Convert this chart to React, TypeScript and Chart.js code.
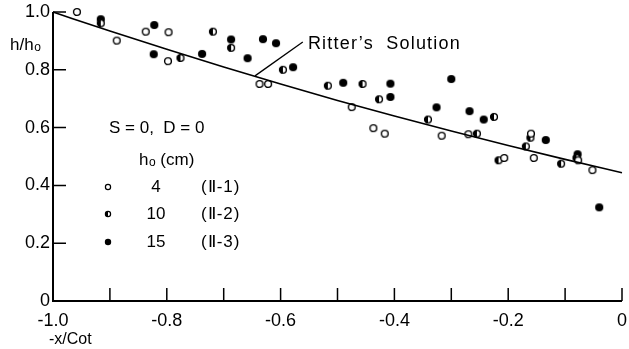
import React, { useEffect, useRef } from "react";
import { Chart, registerables } from "chart.js";
Chart.register(...registerables);

const FONT = "'Liberation Sans', Arial, sans-serif";

// Ritter's solution curve
const ritterX = [-1.0, -0.9, -0.8, -0.7, -0.6, -0.5, -0.4, -0.3, -0.2, -0.1, 0];
const ritterY = [1.0, 0.934, 0.871, 0.81, 0.751, 0.694, 0.64, 0.588, 0.538, 0.49, 0.444];

// h0 = 4 cm (II-1), open circles
const openX = [-0.958, -0.888, -0.837, -0.797, -0.798, -0.637, -0.622, -0.475, -0.437, -0.417, -0.317, -0.27, -0.207, -0.16, -0.155, -0.077, -0.052];
const openY = [1.0, 0.901, 0.932, 0.93, 0.83, 0.751, 0.751, 0.671, 0.598, 0.579, 0.572, 0.577, 0.495, 0.579, 0.495, 0.487, 0.453];

// h0 = 10 cm (II-2), half-filled circles
const halfX = [-0.916, -0.776, -0.719, -0.687, -0.596, -0.517, -0.456, -0.427, -0.341, -0.255, -0.225, -0.217, -0.169, -0.161, -0.107, -0.08];
const halfY = [0.961, 0.841, 0.932, 0.876, 0.8, 0.745, 0.751, 0.698, 0.628, 0.579, 0.637, 0.487, 0.535, 0.565, 0.475, 0.495];

// h0 = 15 cm (II-3), filled circles
const fullX = [-0.916, -0.822, -0.823, -0.738, -0.687, -0.658, -0.631, -0.608, -0.578, -0.49, -0.407, -0.407, -0.3, -0.326, -0.268, -0.243, -0.134, -0.078, -0.04];
const fullY = [0.975, 0.955, 0.854, 0.855, 0.905, 0.84, 0.906, 0.892, 0.809, 0.755, 0.752, 0.706, 0.768, 0.67, 0.657, 0.628, 0.557, 0.508, 0.324];

const xTickVals = [-1.0, -0.9, -0.8, -0.7, -0.6, -0.5, -0.4, -0.3, -0.2, -0.1, 0];
const yTickVals = [0, 0.2, 0.4, 0.6, 0.8, 1.0];

type Kind = "open" | "half" | "full";

function drawMarker(ctx: CanvasRenderingContext2D, kind: Kind, cx: number, cy: number, r: number, lw: number) {
  ctx.save();
  ctx.fillStyle = "#fff";
  ctx.beginPath();
  ctx.arc(cx, cy, r, 0, 2 * Math.PI);
  ctx.fill();
  ctx.fillStyle = "#000";
  if (kind === "full") {
    ctx.beginPath();
    ctx.arc(cx, cy, r + lw / 2, 0, 2 * Math.PI);
    ctx.fill();
  } else {
    if (kind === "half") {
      ctx.beginPath();
      ctx.arc(cx, cy, r, Math.PI / 2, (3 * Math.PI) / 2);
      ctx.closePath();
      ctx.fill();
    }
    ctx.strokeStyle = "#000";
    ctx.lineWidth = lw;
    ctx.beginPath();
    ctx.arc(cx, cy, r, 0, 2 * Math.PI);
    ctx.stroke();
  }
  ctx.restore();
}

function makeMarker(kind: Kind, r: number, lw: number) {
  const size = 12;
  const c = document.createElement("canvas");
  c.width = size;
  c.height = size;
  const ctx = c.getContext("2d")!;
  drawMarker(ctx, kind, size / 2, size / 2, r, lw);
  return c;
}

function drawHo(ctx: CanvasRenderingContext2D, x: number, y: number, size: number) {
  ctx.font = `${size}px ${FONT}`;
  ctx.textAlign = "left";
  ctx.textBaseline = "alphabetic";
  ctx.fillText("h", x, y);
  const w = ctx.measureText("h").width;
  ctx.font = `${Math.round(size * 0.7)}px ${FONT}`;
  ctx.fillText("o", x + w + 0.5, y + 1);
  const w2 = ctx.measureText("o").width;
  return x + w + 0.5 + w2;
}

const annotPlugin = {
  id: "annot",
  afterDraw(chart: any) {
    const { ctx, chartArea: a, scales } = chart;
    const x = scales.x;
    const y = scales.y;
    ctx.save();
    ctx.strokeStyle = "#000";
    ctx.fillStyle = "#000";
    // axes
    ctx.lineWidth = 2;
    ctx.beginPath();
    ctx.moveTo(a.left, y.getPixelForValue(1.0));
    ctx.lineTo(a.left, a.bottom);
    ctx.lineTo(a.right, a.bottom);
    ctx.stroke();
    // tick marks (inward)
    ctx.lineWidth = 1.5;
    ctx.beginPath();
    xTickVals.forEach((v) => {
      const px = x.getPixelForValue(v);
      ctx.moveTo(px, a.bottom);
      ctx.lineTo(px, a.bottom - 13);
    });
    yTickVals.forEach((v) => {
      const py = y.getPixelForValue(v);
      ctx.moveTo(a.left, py);
      ctx.lineTo(a.left + 13, py);
    });
    ctx.stroke();

    // Ritter's Solution label and pointer
    ctx.lineWidth = 1.3;
    ctx.beginPath();
    ctx.moveTo(x.getPixelForValue(-0.645), y.getPixelForValue(0.779));
    ctx.lineTo(x.getPixelForValue(-0.561), y.getPixelForValue(0.896));
    ctx.stroke();
    ctx.font = `18px ${FONT}`;
    (ctx as any).letterSpacing = "1.2px";
    ctx.textAlign = "left";
    ctx.textBaseline = "middle";
    ctx.fillText("Ritter\u2019s  Solution", x.getPixelForValue(-0.552), y.getPixelForValue(0.889));
    (ctx as any).letterSpacing = "0px";

    // y-axis title h/ho
    ctx.textBaseline = "alphabetic";
    ctx.font = `17px ${FONT}`;
    ctx.fillText("h/", 10, 50);
    const hw = ctx.measureText("h/").width;
    drawHo(ctx, 10 + hw, 50, 17);

    // x-axis title
    ctx.font = `16px ${FONT}`;
    ctx.textBaseline = "middle";
    ctx.fillText("-x/Cot", 49, 340);

    // legend block
    ctx.font = `17px ${FONT}`;
    ctx.fillText("S = 0,  D = 0", 109, 128);
    ctx.textBaseline = "alphabetic";
    const ex = drawHo(ctx, 139, 165, 17);
    ctx.font = `17px ${FONT}`;
    ctx.fillText(" (cm)", ex, 165);

    const rows: [Kind, string, string, number][] = [
      ["open", "4", "(\u2161-1)", 187],
      ["half", "10", "(\u2161-2)", 214],
      ["full", "15", "(\u2161-3)", 242],
    ];
    rows.forEach(([k, n, s, ry]) => {
      drawMarker(ctx, k, 108, ry, 2.6, 1.2);
      ctx.font = `17px ${FONT}`;
      ctx.textBaseline = "middle";
      ctx.textAlign = "center";
      ctx.fillText(n, 156, ry);
      ctx.textAlign = "left";
      (ctx as any).letterSpacing = "1px";
      ctx.fillText(s, 201, ry);
      (ctx as any).letterSpacing = "0px";
    });
    ctx.restore();
  },
};

export default function App() {
  const ref = useRef<HTMLCanvasElement | null>(null);
  useEffect(() => {
    if (!ref.current) return;
    const mOpen = makeMarker("open", 3.4, 1.4);
    const mHalf = makeMarker("half", 3.4, 1.4);
    const mFull = makeMarker("full", 3.4, 1.4);
    const toPts = (xs: number[], ys: number[]) => xs.map((v, i) => ({ x: v, y: ys[i] }));
    const chart = new Chart(ref.current, {
      type: "scatter",
      data: {
        datasets: [
          {
            type: "line",
            data: toPts(ritterX, ritterY),
            borderColor: "#000",
            borderWidth: 1.6,
            pointRadius: 0,
            fill: false,
            clip: false,
            cubicInterpolationMode: "monotone",
          } as any,
          { data: toPts(openX, openY), pointStyle: mOpen as any, pointRadius: 5, clip: false } as any,
          { data: toPts(halfX, halfY), pointStyle: mHalf as any, pointRadius: 5, clip: false } as any,
          { data: toPts(fullX, fullY), pointStyle: mFull as any, pointRadius: 5, clip: false } as any,
        ],
      },
      options: {
        responsive: false,
        animation: false,
        devicePixelRatio: 1,
        layout: { padding: { left: 0, right: 7, top: 12, bottom: 0 } },
        plugins: { legend: { display: false }, tooltip: { enabled: false } },
        scales: {
          x: {
            type: "linear",
            min: -1,
            max: 0,
            grid: { display: false, drawTicks: false },
            border: { display: false },
            afterFit: (s: any) => {
              s.height = 48;
              s.paddingLeft = 0;
              s.paddingRight = 0;
            },
            ticks: {
              stepSize: 0.1,
              autoSkip: false,
              maxRotation: 0,
              padding: 9,
              color: "#000",
              font: { family: FONT, size: 18 },
              callback: (v: any) => {
                const k = Math.round(Number(v) * 10);
                if (k % 2 !== 0) return "";
                if (k === 0) return "0";
                return (k / 10).toFixed(1);
              },
            },
          },
          y: {
            type: "linear",
            min: 0,
            max: 1,
            grid: { display: false, drawTicks: false },
            border: { display: false },
            afterFit: (s: any) => {
              s.width = 53;
              s.paddingTop = 0;
              s.paddingBottom = 0;
            },
            ticks: {
              stepSize: 0.2,
              padding: 3,
              color: "#000",
              font: { family: FONT, size: 18 },
              callback: (v: any) => {
                const n = Number(v);
                if (Math.abs(n) < 1e-9) return "0";
                return n.toFixed(1);
              },
            },
          },
        },
      },
      plugins: [annotPlugin],
    });
    return () => chart.destroy();
  }, []);
  return (
    <div style={{ position: "absolute", left: 0, top: 0, width: 629, height: 349, background: "#fff" }}>
      <canvas ref={ref} width={629} height={349} style={{ display: "block" }} />
    </div>
  );
}
